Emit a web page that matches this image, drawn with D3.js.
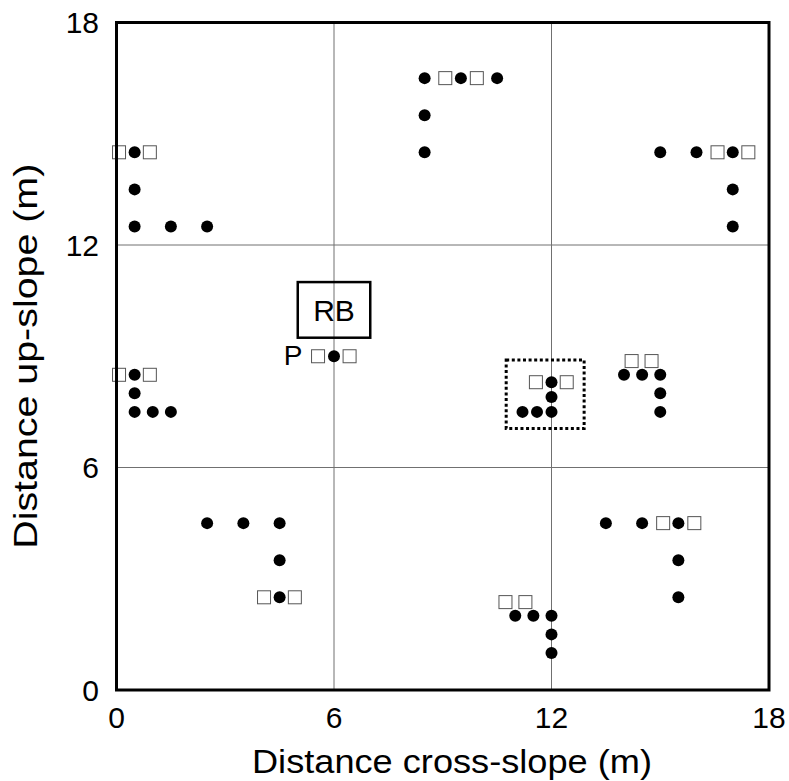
<!DOCTYPE html>
<html><head><meta charset="utf-8">
<script src="https://cdn.jsdelivr.net/npm/d3@7/dist/d3.min.js"></script>
<style>html,body{margin:0;padding:0;background:#fff;} text{font-family:Arial,"Liberation Sans",sans-serif;fill:#000;}</style>
</head><body>
<script>
// ---- data ----
const xTicks = [0, 6, 12, 18];
const yTicks = [0, 6, 12, 18];
const circleX = [0.5,0.5,0.5,1.5,2.5, 8.5,9.5,10.5,8.5,8.5, 15,16,17,17,17, 0.5,0.5,0.5,1,1.5, 6, 12,12,11.2,11.6,12, 14,14.5,15,15,15, 2.5,3.5,4.5,4.5,4.5, 11,11.5,12,12,12, 13.5,14.5,15.5,15.5,15.5];
const circleY = [14.5,13.5,12.5,12.5,12.5, 16.5,16.5,16.5,15.5,14.5, 14.5,14.5,14.5,13.5,12.5, 8.5,8,7.5,7.5,7.5, 9, 8.3,7.9,7.5,7.5,7.5, 8.5,8.5,8.5,8,7.5, 4.5,4.5,4.5,3.5,2.5, 2,2,2,1.5,1, 4.5,4.5,4.5,3.5,2.5];
const squareX = [0.07,0.92, 9.07,9.94, 16.58,17.43, 0.07,0.92, 5.56,6.43, 11.57,12.42, 14.21,14.76, 4.07,4.92, 10.73,11.28, 15.08,15.94];
const squareY = [14.5,14.5, 16.5,16.5, 14.5,14.5, 8.5,8.5, 9,9, 8.3,8.3, 8.87,8.87, 2.5,2.5, 2.37,2.37, 4.5,4.5];
const rbBox = [5, 9.5, 7, 11];        // x0, y0, x1, y1
const dashBox = [10.75, 7.05, 12.9, 8.9];
const labelText = ["RB", "P"];
const labelX = [6, 4.87];
const labelY = [10.25, 8.77];
const xTitle = "Distance cross-slope (m)";
const yTitle = "Distance up-slope (m)";

// ---- layout ----
const W = 789, H = 781;
const L = 116.5, R = 769, T = 22.5, B = 690;
const svg = d3.select("body").append("svg").attr("width", W).attr("height", H);
const x = d3.scaleLinear().domain([0, 18]).range([L, R]);
const y = d3.scaleLinear().domain([0, 18]).range([B, T]);

// grid
const g = svg.append("g");
g.selectAll(".vg").data([6, 12]).enter().append("line")
  .attr("x1", d => x(d)).attr("x2", d => x(d)).attr("y1", T).attr("y2", B)
  .attr("stroke", "#707070").attr("stroke-width", 1);
g.selectAll(".hg").data([6, 12]).enter().append("line")
  .attr("y1", d => y(d)).attr("y2", d => y(d)).attr("x1", L).attr("x2", R)
  .attr("stroke", "#707070").attr("stroke-width", 1);

// tick labels
svg.append("g").selectAll("text").data(xTicks).enter().append("text")
  .attr("x", d => x(d)).attr("y", 728).attr("text-anchor", "middle")
  .attr("font-size", 30).text(d => d);
svg.append("g").selectAll("text").data(yTicks).enter().append("text")
  .attr("x", 99).attr("y", d => y(d)).attr("dy", "0.36em").attr("text-anchor", "end")
  .attr("font-size", 30).text(d => d);

// titles
svg.append("text").attr("x", 452).attr("y", 773).attr("text-anchor", "middle")
  .attr("font-size", 34).attr("textLength", 400).attr("lengthAdjust", "spacingAndGlyphs")
  .text(xTitle);
svg.append("text").attr("transform", `translate(37,${(T + B) / 2}) rotate(-90)`)
  .attr("text-anchor", "middle").attr("font-size", 34)
  .attr("textLength", 385).attr("lengthAdjust", "spacingAndGlyphs").text(yTitle);

// boxes
svg.append("rect").attr("x", x(rbBox[0])).attr("y", y(rbBox[3]))
  .attr("width", x(rbBox[2]) - x(rbBox[0])).attr("height", y(rbBox[1]) - y(rbBox[3]))
  .attr("fill", "none").attr("stroke", "#000").attr("stroke-width", 2.5);
svg.append("rect").attr("x", x(dashBox[0])).attr("y", y(dashBox[3]))
  .attr("width", x(dashBox[2]) - x(dashBox[0])).attr("height", y(dashBox[1]) - y(dashBox[3]))
  .attr("fill", "none").attr("stroke", "#000").attr("stroke-width", 3)
  .attr("stroke-dasharray", "3,2.6");

// labels
svg.append("g").selectAll("text").data(labelText).enter().append("text")
  .attr("x", (d, i) => x(labelX[i])).attr("y", (d, i) => y(labelY[i]))
  .attr("text-anchor", "middle").attr("dy", (d, i) => i === 0 ? "0.36em" : 0)
  .attr("font-size", (d, i) => i === 0 ? 30 : 28).text(d => d);

// squares
const sq = 13;
svg.append("g").selectAll("rect").data(squareX).enter().append("rect")
  .attr("x", (d) => x(d) - sq / 2).attr("y", (d, i) => y(squareY[i]) - sq / 2)
  .attr("width", sq).attr("height", sq)
  .attr("fill", "#fff").attr("stroke", "#555").attr("stroke-width", 1);

// circles
svg.append("g").selectAll("circle").data(circleX).enter().append("circle")
  .attr("cx", d => x(d)).attr("cy", (d, i) => y(circleY[i])).attr("r", 6)
  .attr("fill", "#000");

// frame
svg.append("rect").attr("x", L).attr("y", T).attr("width", R - L).attr("height", B - T)
  .attr("fill", "none").attr("stroke", "#000").attr("stroke-width", 3);
</script>
</body></html>
